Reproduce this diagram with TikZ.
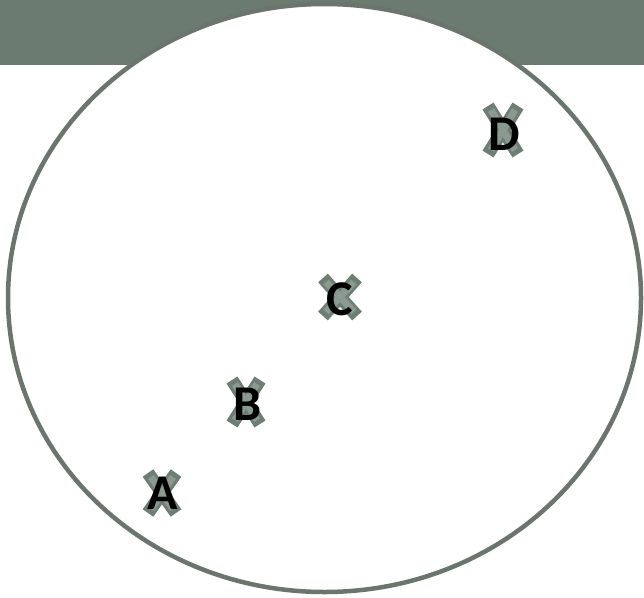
\documentclass[tikz,border=0pt]{standalone}
\usepackage{fontspec}
\setmainfont{Carlito}
\usetikzlibrary{positioning}
\definecolor{cband}{HTML}{6B7B70}
\definecolor{cring}{HTML}{6B756E}
\definecolor{cmark}{HTML}{6E7E74}
\definecolor{cmarklight}{HTML}{8A9A90}
\tikzset{
  every picture/.style={x=1pt, y=-1pt},
  band/.style={fill=cband, draw=none},
  ring/.style={draw=cring, fill=white, line width=4.5pt},
  arm/.style={draw=cmark, line width=13pt},
  armin/.style={draw=cmarklight, line width=7pt},
  letter/.style={font=\fontsize{50}{50}\selectfont\bfseries, text=black, inner sep=0pt},
}
\begin{document}
\begin{tikzpicture}
  \useasboundingbox (0,0) rectangle (644,597);
  % top band and circle
  \fill[band] (0,0) rectangle (644,65);
  \draw[ring] (324.5,298) ellipse [x radius=316.5, y radius=294];

  % marks
  \foreach \n/\x/\y/\w/\h/\lx/\ly in {A/162/493/14/20/163/493, B/246/402/14/22/248/404,
      C/340/297/17/19/340/299, D/503/130/15/24/504/134} {
    \coordinate (m\n) at (\x,\y);
    \draw[arm] ([shift={(-\w,-\h)}]m\n) -- ([shift={(\w,\h)}]m\n);
    \draw[arm] ([shift={(\w,-\h)}]m\n) -- ([shift={(-\w,\h)}]m\n);
    \draw[armin] ([shift={(-\w+3,-\h+4)}]m\n) -- ([shift={(\w-3,\h-4)}]m\n);
    \draw[armin] ([shift={(\w-3,-\h+4)}]m\n) -- ([shift={(-\w+3,\h-4)}]m\n);
    \node[letter] (\n) at (\lx,\ly) {\n};
  }
\end{tikzpicture}
\end{document}
